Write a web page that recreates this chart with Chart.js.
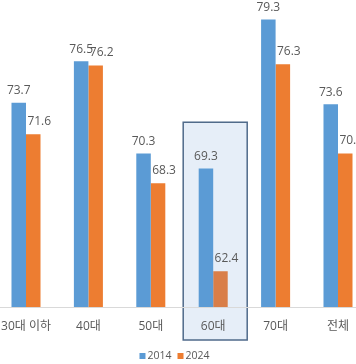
<!DOCTYPE html>
<html><head><meta charset="utf-8">
<script src="https://cdn.jsdelivr.net/npm/chart.js@4"></script>
<style>
html,body{margin:0;padding:0;background:#fff;overflow:hidden;width:356px;height:364px;}
#wrap{position:relative;width:356px;height:364px;overflow:hidden;}
canvas{position:absolute;left:-30px;top:0;}
</style></head><body>
<div id="wrap"><canvas id="c" width="420" height="364"></canvas></div>
<script>
const categories = ['30대 이하','40대','50대','60대','70대','전체'];
const series2014 = [73.7, 76.5, 70.3, 69.3, 79.3, 73.6];
const series2024 = [71.6, 76.2, 68.3, 62.4, 76.3, 70.3];
const seriesNames = ['2014', '2024'];
const yMin = 60, yMax = 80;
const highlightIndex = 3;
const highlightTopValue = 72.4;

const FONT = "'Open Sans','Noto Sans CJK KR',sans-serif";
const BLUE = '#5B9BD5', ORANGE = '#ED7D31', ORANGE_HL = '#D97E48';
const TEXT = '#595959';
Chart.defaults.font.family = FONT;

const highlightPlugin = {
  id: 'highlight',
  beforeDraw(chart) {
    const {ctx, chartArea} = chart;
    const xs = chart.scales.x, ys = chart.scales.y;
    const cx = xs.getPixelForValue(highlightIndex) + 2;
    const left = cx - 32, right = cx + 32;
    const top = ys.getPixelForValue(highlightTopValue);
    const bottom = chartArea.bottom + 33;
    ctx.save();
    ctx.fillStyle = '#E6EEF8';
    ctx.fillRect(left, top, right - left, bottom - top);
    ctx.strokeStyle = '#4F6A8A';
    ctx.lineWidth = 1.5;
    ctx.strokeRect(left, top, right - left, bottom - top);
    ctx.restore();
  }
};

const labelPlugin = {
  id: 'valueLabels',
  afterDatasetsDraw(chart) {
    const ctx = chart.ctx;
    ctx.save();
    ctx.font = '12px ' + FONT;
    ctx.fillStyle = TEXT;
    ctx.textAlign = 'center';
    ctx.textBaseline = 'middle';
    chart.data.datasets.forEach((ds, i) => {
      const meta = chart.getDatasetMeta(i);
      const dx = i === 0 ? 0 : 6;
      const dy = i === 0 ? 12 : 13;
      meta.data.forEach((bar, j) => {
        ctx.fillText(ds.data[j].toFixed(1), bar.x + dx, bar.y - dy);
      });
    });
    ctx.restore();
  }
};

const legendPlugin = {
  id: 'customLegend',
  afterDraw(chart) {
    const ctx = chart.ctx;
    ctx.save();
    ctx.font = '10.5px ' + FONT;
    ctx.textBaseline = 'middle';
    const items = chart.data.datasets.map(d => ({text: d.label, color: d.legendColor}));
    const box = 6, gapBox = 2, gapItem = 6;
    let total = 0;
    items.forEach(it => { total += box + gapBox + ctx.measureText(it.text).width; });
    total += gapItem * (items.length - 1);
    const centerX = 204.5, y = 356;
    let x = centerX - total / 2;
    items.forEach(it => {
      ctx.fillStyle = it.color;
      ctx.fillRect(x, y - box / 2, box, box);
      x += box + gapBox;
      ctx.fillStyle = TEXT;
      ctx.textAlign = 'left';
      ctx.fillText(it.text, x, y);
      x += ctx.measureText(it.text).width + gapItem;
    });
    ctx.restore();
  }
};

new Chart(document.getElementById('c'), {
  type: 'bar',
  data: {
    labels: categories,
    datasets: [
      {label: seriesNames[0], data: series2014, backgroundColor: BLUE, legendColor: BLUE,
       categoryPercentage: 0.465, barPercentage: 1.0},
      {label: seriesNames[1], data: series2024,
       backgroundColor: categories.map((c, i) => i === highlightIndex ? ORANGE_HL : ORANGE),
       legendColor: ORANGE, categoryPercentage: 0.465, barPercentage: 1.0}
    ]
  },
  options: {
    responsive: false,
    animation: false,
    devicePixelRatio: 1,
    layout: {padding: {left: 24.8, right: 20.8, top: 9, bottom: 0}},
    plugins: {legend: {display: false}, tooltip: {enabled: false}},
    scales: {
      x: {
        grid: {display: false, drawTicks: false},
        border: {display: true, color: '#d9d9d9', width: 1},
        ticks: {color: TEXT, font: {size: 12}, padding: 12, maxRotation: 0, autoSkip: false},
        afterFit: s => { s.height = 57; }
      },
      y: {display: false, min: yMin, max: yMax}
    }
  },
  plugins: [highlightPlugin, labelPlugin, legendPlugin]
});
</script>
</body></html>
